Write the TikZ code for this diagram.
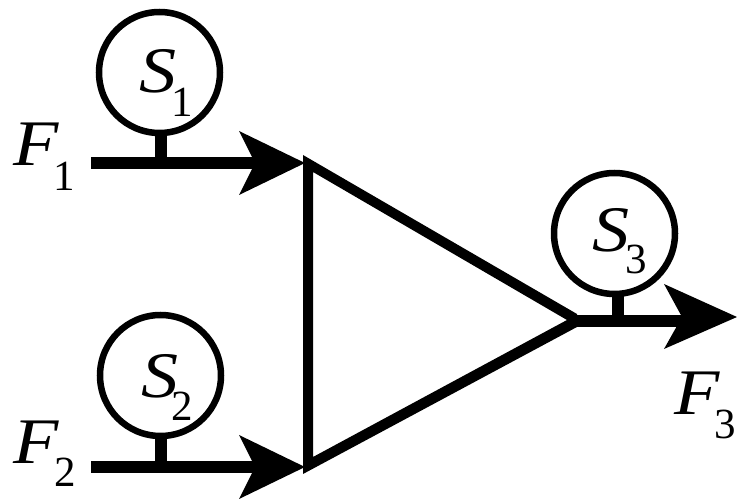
\documentclass[tikz,border=0pt]{standalone}
\usepackage{fontspec}
\setmainfont{Liberation Serif}
\tikzset{
 px/.style={x=1pt,y=-1pt},
 flow/.style={line width=12pt},
 wire/.style={line width=12pt},
 sens/.style={circle,draw,line width=6.5pt,minimum size=121pt,inner sep=0pt},
 tip/.style={fill=black,draw=none},
 var/.style={font=\fontsize{65}{65}\selectfont\itshape,inner sep=0pt,anchor=base west,xscale=1.14,transform shape},
 sub/.style={font=\fontsize{43}{43}\selectfont,inner sep=0pt,anchor=base west}
}
\begin{document}
\begin{tikzpicture}[px]
\useasboundingbox (0,0) rectangle (737,502);
\fill[black,even odd rule] (303,155) -- (303,474) -- (577,327) -- (577,314) -- cycle
  (313,172) -- (313,457) -- (567,320) -- cycle;
\coordinate (f1) at (91,163);
\coordinate (f2) at (91,467);
\coordinate (f3) at (574,321);
\draw[flow] (f1) -- (270,163);
\draw[flow] (f2) -- (270,467);
\draw[flow] (f3) -- (695,321);
\fill[tip] (305,163) -- (239,131) -- (255,163) -- (239,195) -- cycle;
\fill[tip] (305,467) -- (239,435) -- (255,467) -- (239,499) -- cycle;
\fill[tip] (737,317) -- (664,284) -- (682,317) -- (664,349) -- cycle;
\node[sens] (s1) at (159.5,72.5) {};
\node[sens] (s2) at (160.5,375.5) {};
\node[sens] (s3) at (614.5,233.5) {};
\coordinate (j1) at (161,163);
\coordinate (j2) at (161,467);
\coordinate (j3) at (618,321);
\draw[wire] (161,135) -- (j1);
\draw[wire] (161,438) -- (j2);
\draw[wire] (618,294) -- (j3);
\node[var] (ts1) at (139,92.5) {S};
\node[sub] (ts1b) at (171,117) {1};
\node[var] (ts2) at (141,398) {S};
\node[sub] (ts2b) at (171,421) {2};
\node[var] (ts3) at (592,251.5) {S};
\node[sub] (ts3b) at (625,274) {3};
\node[var] (tf1) at (13,165.5) {F};
\node[sub] (tf1b) at (53,190.5) {1};
\node[var] (tf2) at (13,463.5) {F};
\node[sub] (tf2b) at (54,487) {2};
\node[var] (tf3) at (674,415) {F};
\node[sub] (tf3b) at (714,439) {3};
\end{tikzpicture}
\end{document}
